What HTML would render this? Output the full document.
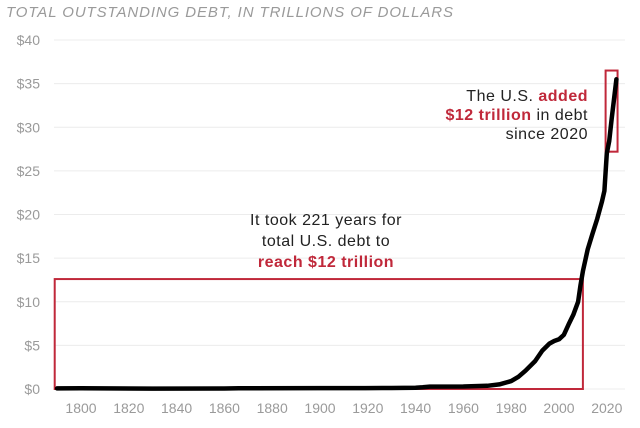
<!DOCTYPE html>
<html><head><meta charset="utf-8"><style>
html,body{margin:0;padding:0;background:#fff;width:640px;height:428px;overflow:hidden}
svg{display:block;font-family:"Liberation Sans",sans-serif}
</style></head><body>
<svg id="chart" width="640" height="428">
<text x="6" y="17" font-size="15" font-style="italic" letter-spacing="0.9" fill="#9a9a9a">TOTAL OUTSTANDING DEBT, IN TRILLIONS OF DOLLARS</text>
<g id="grid"></g><g id="ylab"></g><g id="xlab"></g><g id="boxes"></g><g id="line"></g>
<text text-anchor="middle" font-size="16" letter-spacing="0.5" fill="#222"><tspan x="326" y="225">It took 221 years for</tspan><tspan x="326" y="246">total U.S. debt to</tspan><tspan x="326" y="267" fill="#c0283a" font-weight="bold">reach $12 trillion</tspan></text>
<text text-anchor="end" font-size="16" letter-spacing="0.5" fill="#222"><tspan x="588" y="101">The U.S. <tspan fill="#c0283a" font-weight="bold">added</tspan></tspan><tspan x="588" y="120"><tspan fill="#c0283a" font-weight="bold">$12 trillion</tspan> in debt</tspan><tspan x="588" y="139">since 2020</tspan></text>
</svg>
<script>
const years=[1790,1800,1830,1860,1866,1900,1916,1919,1930,1940,1943,1946,1960,1970,1975,1980,1983,1986,1990,1993,1996,1998,2000,2002,2004,2006,2008,2009,2010,2012,2014,2016,2018,2019,2020,2021,2022,2023,2024];
const debt=[0.07,0.08,0.05,0.06,0.08,0.1,0.1,0.1,0.12,0.15,0.2,0.28,0.29,0.37,0.53,0.9,1.4,2.1,3.2,4.4,5.2,5.5,5.7,6.2,7.4,8.5,10,11.9,13.5,16,17.8,19.5,21.5,22.7,27,28.4,30.9,33.2,35.5];
const yTicks=[0,5,10,15,20,25,30,35,40];
const xTicks=[1800,1820,1840,1860,1880,1900,1920,1940,1960,1980,2000,2020];
const box1=[1789,2010,0,12.6];
const box2=[2019.5,2024.5,27.2,36.5];
const NS="http://www.w3.org/2000/svg";
const X=y=>81+(y-1800)*2.39;
const Y=v=>389-v*8.725;
function mk(t,p,a){const e=document.createElementNS(NS,t);for(const k in a)e.setAttribute(k,a[k]);p.appendChild(e);return e;}
const g=document.getElementById('grid'),yl=document.getElementById('ylab'),xl=document.getElementById('xlab');
yTicks.forEach(v=>{
 const l=mk('line',g,{x1:54,x2:625,y1:Y(v),y2:Y(v),stroke:'#ececec','stroke-width':1});
 
 
 const t=mk('text',yl,{x:40,y:Y(v)+5,'text-anchor':'end','font-size':14,fill:'#9a9a9a'});t.textContent='$'+v;
 
 
});
xTicks.forEach(v=>{
 const t=mk('text',xl,{x:X(v),y:413,'text-anchor':'middle','font-size':14,fill:'#9a9a9a'});t.textContent=v;
 
 
});
const b=document.getElementById('boxes');
[box1,box2].forEach((bx,i)=>{
 const r=mk('rect',b,{x:X(bx[0]),y:Y(bx[3]),width:X(bx[1])-X(bx[0]),height:Y(bx[2])-Y(bx[3]),fill:'none',stroke:'#c0283a','stroke-width':2});
 
 
});
const d=years.map((y,i)=>(i?'L':'M')+X(y).toFixed(1)+','+Y(debt[i]).toFixed(1)).join('');
const p=mk('path',document.getElementById('line'),{d:d,fill:'none',stroke:'#000','stroke-width':4.5,'stroke-linejoin':'round','stroke-linecap':'round'});


</script>
</body></html>
